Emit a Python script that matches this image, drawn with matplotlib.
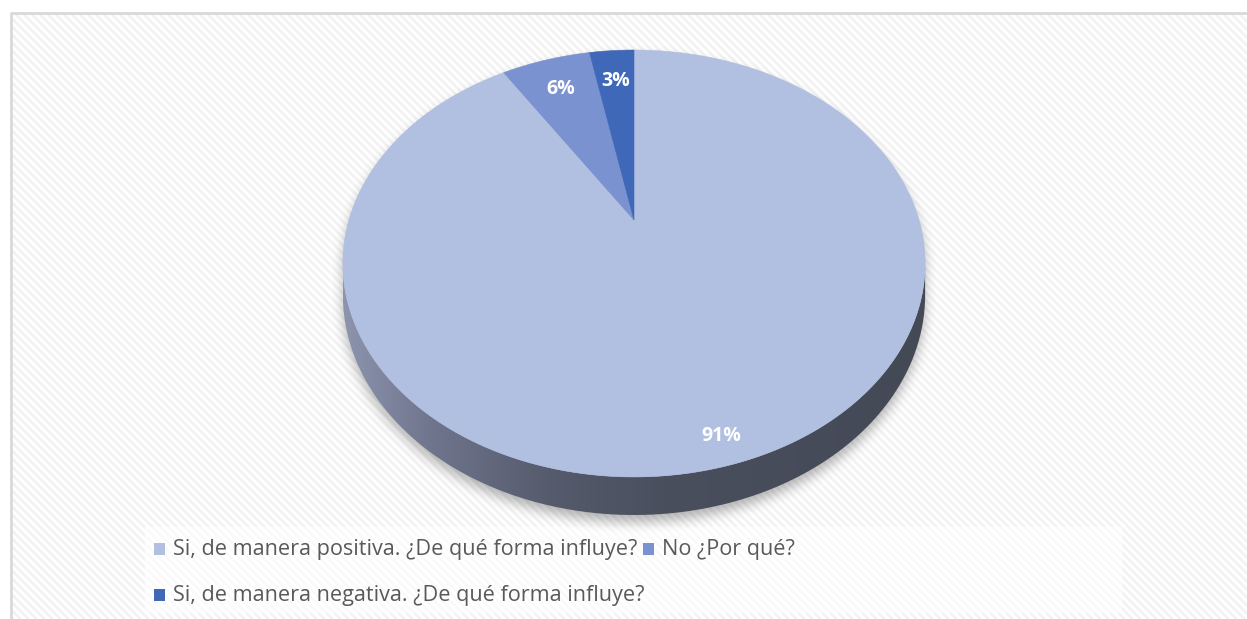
import numpy as np
import matplotlib.pyplot as plt
from matplotlib.patches import Polygon, Rectangle
from matplotlib.path import Path
from matplotlib.colors import LinearSegmentedColormap

# Survey answers and their shares
categories = [
    "Si, de manera positiva. ¿De qué forma influye?",
    "No ¿Por qué?",
    "Si, de manera negativa. ¿De qué forma influye?",
]
percentages = [91, 6, 3]
colors = ["#b1bfe1", "#7b92d0", "#3f68b8"]
labels = [f"{p}%" for p in percentages]

W, H = 1247, 619
fig = plt.figure(figsize=(W / 100, H / 100), dpi=100)
ax = fig.add_axes([0, 0, 1, 1])

# ---- patterned chart background -------------------------------------------
yy, xx = np.mgrid[0:H, 0:W]
bg = np.ones((H, W, 3))
stripe = ((xx - yy) % 8) < 4
bg[stripe] = 0.955
bg[(xx < 11) | (yy < 13)] = 1.0
ax.imshow(bg, extent=(0, W, H, 0), interpolation="nearest", zorder=0, aspect="auto")
ax.plot([11, 11, W], [H, 12.5, 12.5], color="#d9d9d9", lw=2, zorder=1,
        solid_capstyle="butt")

# ---- perspective projection of the pie disc ----------------------------------
CX, CY = 634.0, 220.0        # projected pie centre
A, B, C = 285.0, 204.6, 0.2037
D0 = 30.3                    # extrusion depth


def project(t, r=1.0):
    u = r * np.cos(t)
    v = r * np.sin(t)
    d = 1 + C * v
    return CX + A * u / d, CY - B * v / d


# side wall (front half of the cylinder)
t_side = np.linspace(np.pi + np.arcsin(C), 2 * np.pi - np.arcsin(C), 300)
sx, sy = project(t_side)
depth = D0 / (1 + C * np.sin(t_side))
side_xy = np.concatenate([np.column_stack([sx, sy]),
                          np.column_stack([sx, sy + depth])[::-1]])

# top outline (full disc)
t_all = np.linspace(0, 2 * np.pi, 600)
tx, ty = project(t_all)
top_xy = np.column_stack([tx, ty])

# ---- soft drop shadow --------------------------------------------------------
pts = np.column_stack([xx.ravel() + 0.5, yy.ravel() + 0.5])
mask = (Path(side_xy).contains_points(pts) | Path(top_xy).contains_points(pts))
mask = mask.reshape(H, W).astype(float)
mask = np.roll(mask, 7, axis=0)


def box_blur(a, r, axis):
    c = np.cumsum(np.pad(a, [(r + 1, r) if i == axis else (0, 0) for i in range(2)],
                         mode="edge"), axis=axis)
    n = a.shape[axis]
    hi = np.take(c, np.arange(2 * r + 1, 2 * r + 1 + n), axis=axis)
    lo = np.take(c, np.arange(0, n), axis=axis)
    return (hi - lo) / (2 * r + 1)


for _ in range(3):
    mask = box_blur(mask, 5, 0)
    mask = box_blur(mask, 5, 1)
shadow = np.zeros((H, W, 4))
shadow[..., :3] = 0.35
shadow[..., 3] = mask * 0.45
ax.imshow(shadow, extent=(0, W, H, 0), zorder=2, aspect="auto")

# ---- side wall with horizontal shading --------------------------------------
side_poly = Polygon(side_xy, closed=True, facecolor="none", edgecolor="none", zorder=3)
ax.add_patch(side_poly)
side_cmap = LinearSegmentedColormap.from_list(
    "side", [(0.0, "#8d94ae"), (0.15, "#6f758d"), (0.35, "#565b6d"),
             (0.55, "#4a4f5e"), (1.0, "#444956")])
grad = np.linspace(0, 1, 256)[None, :]
im = ax.imshow(grad, cmap=side_cmap, aspect="auto", zorder=3,
               extent=(sx.min(), sx.max(), (sy + depth).max() + 2, sy.min() - 2))
im.set_clip_path(side_poly)

ax.set_xlim(0, W)
ax.set_ylim(H, 0)
ax.axis("off")

# ---- slices on the top face -------------------------------------------------
fracs = np.array(percentages, dtype=float) / np.sum(percentages)
start = np.pi / 2
label_r = [0.9, 0.8, 0.8]
for frac, col, lab, lr in zip(fracs, colors, labels, label_r):
    end = start - 2 * np.pi * frac
    t = np.linspace(start, end, max(int(600 * frac), 8))
    px, py = project(t)
    poly = np.vstack([[CX, CY], np.column_stack([px, py])])
    ax.add_patch(Polygon(poly, closed=True, facecolor=col, edgecolor=col,
                         lw=0.4, zorder=4))
    mx, my = project((start + end) / 2, lr)
    ax.text(mx, my + 1, lab, color="white", fontsize=14, fontweight="bold",
            family="Open Sans", ha="center", va="center", zorder=6)
    start = end

# ---- legend -----------------------------------------------------------------
ax.add_patch(Rectangle((145, 527), 977, 86, facecolor="white", edgecolor="none",
                       alpha=0.6, zorder=1.5))
leg_color = "#595959"
rows_y = [549, 595]
sq_w, sq_h = 11, 12
x0 = 154
tx0 = 173
fig.canvas.draw()
renderer = fig.canvas.get_renderer()

# size the legend font so the first entry spans its row width
probe = ax.text(0, 0, categories[0], fontsize=10, family="Open Sans")
w10 = probe.get_window_extent(renderer).width
probe.remove()
leg_fs = 10 * 465 / w10

t1 = ax.text(tx0, rows_y[0], categories[0], fontsize=leg_fs, family="Open Sans",
             color=leg_color, va="center", ha="left", zorder=6)
ax.add_patch(Rectangle((x0, rows_y[0] - sq_h / 2), sq_w, sq_h, facecolor=colors[0],
                       edgecolor="none", zorder=6))
bb = t1.get_window_extent(renderer)
x1 = bb.x1 + 6
ax.add_patch(Rectangle((x1, rows_y[0] - sq_h / 2), sq_w, sq_h, facecolor=colors[1],
                       edgecolor="none", zorder=6))
ax.text(x1 + (tx0 - x0), rows_y[0], categories[1], fontsize=leg_fs, family="Open Sans",
        color=leg_color, va="center", ha="left", zorder=6)
ax.add_patch(Rectangle((x0, rows_y[1] - sq_h / 2), sq_w, sq_h, facecolor=colors[2],
                       edgecolor="none", zorder=6))
ax.text(tx0, rows_y[1], categories[2], fontsize=leg_fs, family="Open Sans",
        color=leg_color, va="center", ha="left", zorder=6)

fig.savefig("out.png", dpi=100)
